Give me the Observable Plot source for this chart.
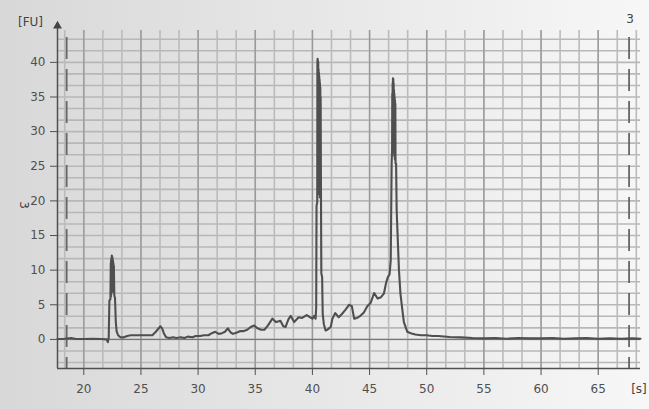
<!DOCTYPE html>
<html><head><meta charset="utf-8">
<script src="https://cdn.jsdelivr.net/npm/d3@7"></script>
<script src="https://cdn.jsdelivr.net/npm/@observablehq/plot@0.6"></script>
<style>
html,body{margin:0;padding:0;}
body{width:649px;height:409px;overflow:hidden;background:linear-gradient(90deg,#d8d8d8,#f7f7f7);}
</style></head><body><div id="chart"></div>
<script>
// migration time [s]
const time = [17.7,18.3,18.9,19.3,20.0,20.8,21.5,22.0,22.1,22.18,22.24,22.33,
  22.36,22.375,22.39,22.405,22.42,22.435,22.45,22.465,22.48,22.495,22.51,22.525,22.54,22.555,22.57,22.585,22.6,22.615,22.63,
  22.67,22.73,22.8,22.87,23.0,23.2,23.5,23.8,24.1,24.5,25.0,25.5,26.0,26.3,26.5,26.7,26.85,27.0,27.2,27.5,27.8,28.1,28.5,28.8,29.1,29.5,29.8,30.2,30.5,30.9,31.2,31.5,31.8,32.1,32.35,32.6,32.85,33.05,33.4,33.7,34.0,34.3,34.6,34.9,35.2,35.5,35.8,36.1,36.5,36.8,37.0,37.2,37.45,37.65,37.9,38.1,38.4,38.8,39.1,39.5,39.8,40.0,40.15,40.28,40.33,40.36,
  40.42,40.435,40.45,40.465,40.48,40.495,40.51,40.525,40.54,40.555,40.57,40.585,40.6,40.615,40.63,40.645,40.66,40.675,40.69,40.705,40.72,
  40.75,40.78,40.85,40.9,41.0,41.15,41.3,41.45,41.6,41.75,42.0,42.3,42.6,42.9,43.2,43.45,43.65,43.9,44.2,44.5,44.8,45.1,45.4,45.7,46.0,46.25,46.45,46.6,46.75,46.85,46.9,46.93,
  46.97,46.985,47.0,47.015,47.03,47.045,47.06,47.075,47.09,47.105,47.12,47.135,47.15,47.165,47.18,47.195,47.21,47.225,47.24,47.255,47.27,
  47.32,47.37,47.47,47.57,47.7,47.85,48.0,48.3,48.6,49.0,49.5,50.0,50.5,51.0,52.0,53.0,54.0,55.0,56.0,57.0,58.0,59.0,60.0,61.0,62.0,63.0,64.0,65.0,66.0,67.0,68.0,68.7];
// fluorescence [FU]
const fu = [0.05,0.1,0.2,0.05,0.05,0.1,0.05,0.0,-0.4,0.2,5.6,5.8,
  11.0,6.2,11.5,6.5,11.8,6.8,12.1,7.0,12.0,7.2,11.8,7.4,11.5,7.2,11.2,7.0,10.9,6.8,10.6,
  6.3,6.0,2.5,1.2,0.6,0.3,0.3,0.5,0.6,0.6,0.6,0.6,0.6,1.1,1.5,1.9,1.6,0.9,0.3,0.2,0.3,0.2,0.3,0.2,0.4,0.3,0.5,0.5,0.6,0.6,0.9,1.1,0.8,0.9,1.1,1.6,1.0,0.8,1.0,1.2,1.2,1.4,1.8,2.0,1.6,1.4,1.4,2.0,3.0,2.5,2.6,2.7,1.9,1.8,2.9,3.4,2.5,3.2,3.1,3.5,3.2,3.0,3.4,3.0,4.6,19.3,
  19.8,39.8,40.5,21.0,40.3,21.5,40.0,22.0,39.0,21.5,38.5,21.0,38.0,21.0,37.5,20.5,37.0,20.5,36.4,20.5,35.0,
  20.5,9.5,9.0,3.7,2.2,1.3,1.4,1.6,1.8,3.0,3.8,3.2,3.7,4.3,5.0,4.8,3.0,3.1,3.4,3.9,4.8,5.3,6.7,5.9,6.1,6.6,8.2,9.0,9.4,11.4,20,25.4,
  27.5,35.5,28,37.0,27.5,37.7,28,37.6,27.5,37.0,27,36.0,26.5,35.5,26.5,35.0,26,34.5,25.8,34,25.4,
  25.4,18.6,14.3,10.0,6.6,4.5,2.5,1.1,0.9,0.7,0.6,0.6,0.5,0.5,0.35,0.3,0.2,0.15,0.2,0.1,0.2,0.15,0.15,0.2,0.1,0.15,0.2,0.1,0.15,0.1,0.15,0.1];
const xTicks = [20,25,30,35,40,45,50,55,60,65];
const yTicks = [0,5,10,15,20,25,30,35,40];
const markers = [18.5, 67.7];

const xDom = [17.7, 68.7], yDom = [-4.2, 44.6];
const data = time.map((t, i) => ({t, v: fu[i]}));
const step = 5 / 3;
const vGrid = d3.range(-1, 31).map(k => 20 + k * step).filter(v => v > xDom[0] && v < xDom[1]);
const hGrid = d3.range(-2, 27).map(k => k * step).filter(v => v > yDom[0] && v < 44);

const plot = Plot.plot({
  width: 649, height: 409,
  marginLeft: 57, marginRight: 9, marginTop: 30, marginBottom: 41,
  x: {domain: xDom, label: null},
  y: {domain: yDom, label: null},
  style: {background: "transparent", fontFamily: "'DejaVu Sans', Verdana, sans-serif", fontSize: "12px", color: "#505050"},
  marks: [
    Plot.ruleY(hGrid, {stroke: "#b7b7b7", strokeWidth: 1.6}),
    Plot.ruleX(vGrid, {stroke: "#bbbbbb", strokeWidth: 1.6}),
    Plot.ruleX(xTicks, {stroke: "#989898", strokeWidth: 1.3}),
    Plot.ruleY([0], {stroke: "#707070", strokeWidth: 1}),
    Plot.ruleX(markers, {y1: 43.6, y2: yDom[0], stroke: "#666", strokeWidth: 1.8, strokeDasharray: "22,10"}),
    Plot.line(data, {x: "t", y: "v", stroke: "#4f4f4f", strokeWidth: 2.1}),
    Plot.axisX({ticks: xTicks, tickSize: 7, tickPadding: 9, label: null, fontSize: 12}),
    Plot.axisY({ticks: yTicks, tickSize: 7, tickPadding: 5, label: null, fontSize: 12}),
    Plot.ruleX([xDom[0]], {y1: yDom[0], y2: 45.2, stroke: "#505050", strokeWidth: 1.5}),
    Plot.ruleY([yDom[0]], {stroke: "#505050", strokeWidth: 1.5}),
    Plot.dot([{x: xDom[0], y: 45.25}], {x: "x", y: "y", symbol: "triangle", r: 3.3, fill: "#444", stroke: "none"})
  ]
});
document.getElementById("chart").appendChild(plot);

const svg = d3.select(plot);
const txt = (x, y, s, anchor, rot) => {
  const t = svg.append("text").attr("x", x).attr("y", y).attr("text-anchor", anchor)
    .attr("fill", "#444").attr("font-size", 12).text(s);
  if (rot) t.attr("transform", `rotate(${rot},${x},${y})`);
  return t;
};
txt(30.5, 25.5, "[FU]", "middle");
txt(630, 23, "3", "middle");
txt(639, 393, "[s]", "middle");
txt(20, 205, "3", "middle", 90);
</script></body></html>
